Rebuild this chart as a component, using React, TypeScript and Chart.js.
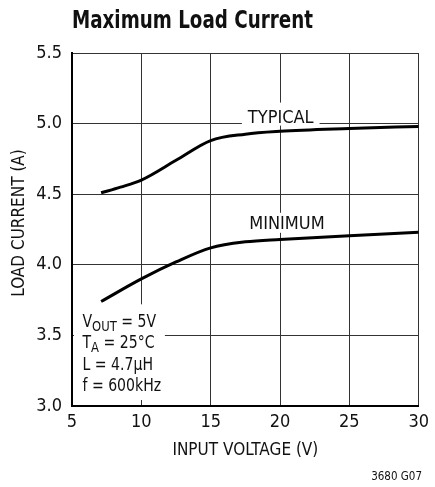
import React, { useEffect, useRef } from "react";
import { Chart, registerables } from "chart.js";

Chart.register(...registerables);

const typicalVin = [7.1, 8.5, 10, 12.5, 15, 17.5, 20, 25, 30];
const typicalCurrent = [4.51, 4.55, 4.6, 4.74, 4.88, 4.925, 4.945, 4.965, 4.98];
const minimumVin = [7.1, 10, 12.5, 15, 17.5, 20, 25, 30];
const minimumCurrent = [3.74, 3.9, 4.02, 4.12, 4.163, 4.18, 4.205, 4.23];

const chartTitle = "Maximum Load Current";
const xAxisTitle = "INPUT VOLTAGE (V)";
const yAxisTitle = "LOAD CURRENT (A)";
const curveLabels = ["TYPICAL", "MINIMUM"];
const figureCode = "3680 G07";

const FONT = '"Liberation Sans Narrow", "DejaVu Sans Condensed", "Liberation Sans", sans-serif';

const labelsPlugin = {
  id: "labelsPlugin",
  beforeDatasetsDraw(chart: any) {
    const { ctx } = chart;
    const xs = chart.scales.x;
    const ys = chart.scales.y;
    ctx.save();
    // curve labels with white background
    ctx.font = `18px ${FONT}`;
    ctx.textBaseline = "alphabetic";
    ctx.textAlign = "center";
    const typX = xs.getPixelForValue(20.05);
    const typY = ys.getPixelForValue(5.0) - 1;
    const w1 = ctx.measureText(curveLabels[0]).width;
    ctx.fillStyle = "#fff";
    ctx.fillRect(typX - w1 / 2 - 6, typY - 20, w1 + 12, 23);
    ctx.fillStyle = "#111";
    ctx.fillText(curveLabels[0], typX, typY);

    const minX = xs.getPixelForValue(20.5);
    const minY = ys.getPixelForValue(4.255);
    const w2 = ctx.measureText(curveLabels[1]).width;
    ctx.fillStyle = "#fff";
    ctx.fillRect(minX - w2 / 2 - 6, minY - 16, w2 + 12, 20);
    ctx.fillStyle = "#111";
    ctx.fillText(curveLabels[1], minX, minY);

    // conditions box
    const area = chart.chartArea;
    const bx = area.left + 2;
    const bRight = xs.getPixelForValue(11.7);
    const bTop = ys.getPixelForValue(3.72);
    const bBottom = area.bottom - 6;
    ctx.fillStyle = "#fff";
    ctx.fillRect(bx, bTop, bRight - bx, bBottom - bTop);
    ctx.fillStyle = "#111";
    ctx.textAlign = "left";
    const tx = area.left + 10.5;
    const base = [327, 348.3, 369.5, 390.7];
    const sx = 0.92;
    const drawRuns = (runs: [string, boolean][], y: number) => {
      ctx.save();
      ctx.translate(tx, 0);
      ctx.scale(sx, 1);
      let x = 0;
      for (const [t, sub] of runs) {
        ctx.font = sub ? `14px ${FONT}` : `17px ${FONT}`;
        ctx.fillText(t, x, sub ? y + 3.5 : y);
        x += ctx.measureText(t).width;
      }
      ctx.restore();
    };
    drawRuns([["V", false], ["OUT", true], [" = 5V", false]], base[0]);
    drawRuns([["T", false], ["A", true], [" = 25°C", false]], base[1]);
    drawRuns([["L = 4.7μH", false]], base[2]);
    drawRuns([["f = 600kHz", false]], base[3]);
    ctx.restore();
  },
  afterDraw(chart: any) {
    const { ctx } = chart;
    ctx.save();
    ctx.fillStyle = "#111";
    ctx.textBaseline = "alphabetic";
    ctx.textAlign = "left";
    ctx.font = `bold 25px ${FONT}`;
    const tw = ctx.measureText(chartTitle).width;
    const targetW = 241;
    ctx.save();
    ctx.translate(chart.chartArea.left, 28);
    ctx.scale(Math.min(1, targetW / tw), 1);
    ctx.fillText(chartTitle, 0, 0);
    ctx.restore();

    // y axis title
    ctx.save();
    ctx.font = `17px ${FONT}`;
    ctx.textAlign = "center";
    ctx.textBaseline = "middle";
    ctx.translate(19.5, 223);
    ctx.rotate(-Math.PI / 2);
    ctx.fillText(yAxisTitle, 0, 0);
    ctx.restore();

    ctx.font = `11.5px ${FONT}`;
    ctx.textAlign = "right";
    ctx.fillText(figureCode, 422, 480);
    ctx.restore();
  },
};

export default function App() {
  const ref = useRef<HTMLCanvasElement | null>(null);
  useEffect(() => {
    document.body.style.margin = "0";
    const chart = new Chart(ref.current as HTMLCanvasElement, {
      type: "line",
      data: {
        datasets: [
          {
            label: curveLabels[0],
            data: typicalVin.map((v, i) => ({ x: v, y: typicalCurrent[i] })),
            borderColor: "#000",
            borderWidth: 3,
            pointRadius: 0,
            cubicInterpolationMode: "monotone",
            fill: false,
          },
          {
            label: curveLabels[1],
            data: minimumVin.map((v, i) => ({ x: v, y: minimumCurrent[i] })),
            borderColor: "#000",
            borderWidth: 3,
            pointRadius: 0,
            cubicInterpolationMode: "monotone",
            fill: false,
          },
        ],
      },
      options: {
        animation: false,
        responsive: false,
        maintainAspectRatio: false,
        layout: { padding: { left: 0, right: 12, top: 53, bottom: 0 } },
        plugins: { legend: { display: false }, tooltip: { enabled: false }, title: { display: false } },
        scales: {
          x: {
            type: "linear",
            min: 5,
            max: 30,
            afterFit: (s: any) => {
              s.height = 81;
            },
            ticks: {
              stepSize: 5,
              color: "#111",
              padding: 6,
              font: { family: FONT, size: 18 },
            },
            grid: { color: "#333", lineWidth: 1, drawTicks: false },
            border: { color: "#000", width: 2 },
            title: {
              display: true,
              text: xAxisTitle,
              color: "#111",
              font: { family: FONT, size: 17 },
              padding: { top: 0, bottom: 26 },
            },
          },
          y: {
            min: 3,
            max: 5.5,
            afterFit: (s: any) => {
              s.width = 72;
            },
            ticks: {
              stepSize: 0.5,
              color: "#111",
              padding: 10,
              font: { family: FONT, size: 18 },
              callback: (v: any) => Number(v).toFixed(1),
            },
            grid: { color: "#333", lineWidth: 1, drawTicks: false },
            border: { color: "#000", width: 2 },
            title: { display: false, text: yAxisTitle },
          },
        },
      },
      plugins: [labelsPlugin],
    });
    return () => chart.destroy();
  }, []);
  return (
    <div style={{ position: "absolute", left: 0, top: 0, width: 435, height: 487 }}>
      <canvas ref={ref} width={435} height={487} style={{ width: 435, height: 487 }} />
    </div>
  );
}
